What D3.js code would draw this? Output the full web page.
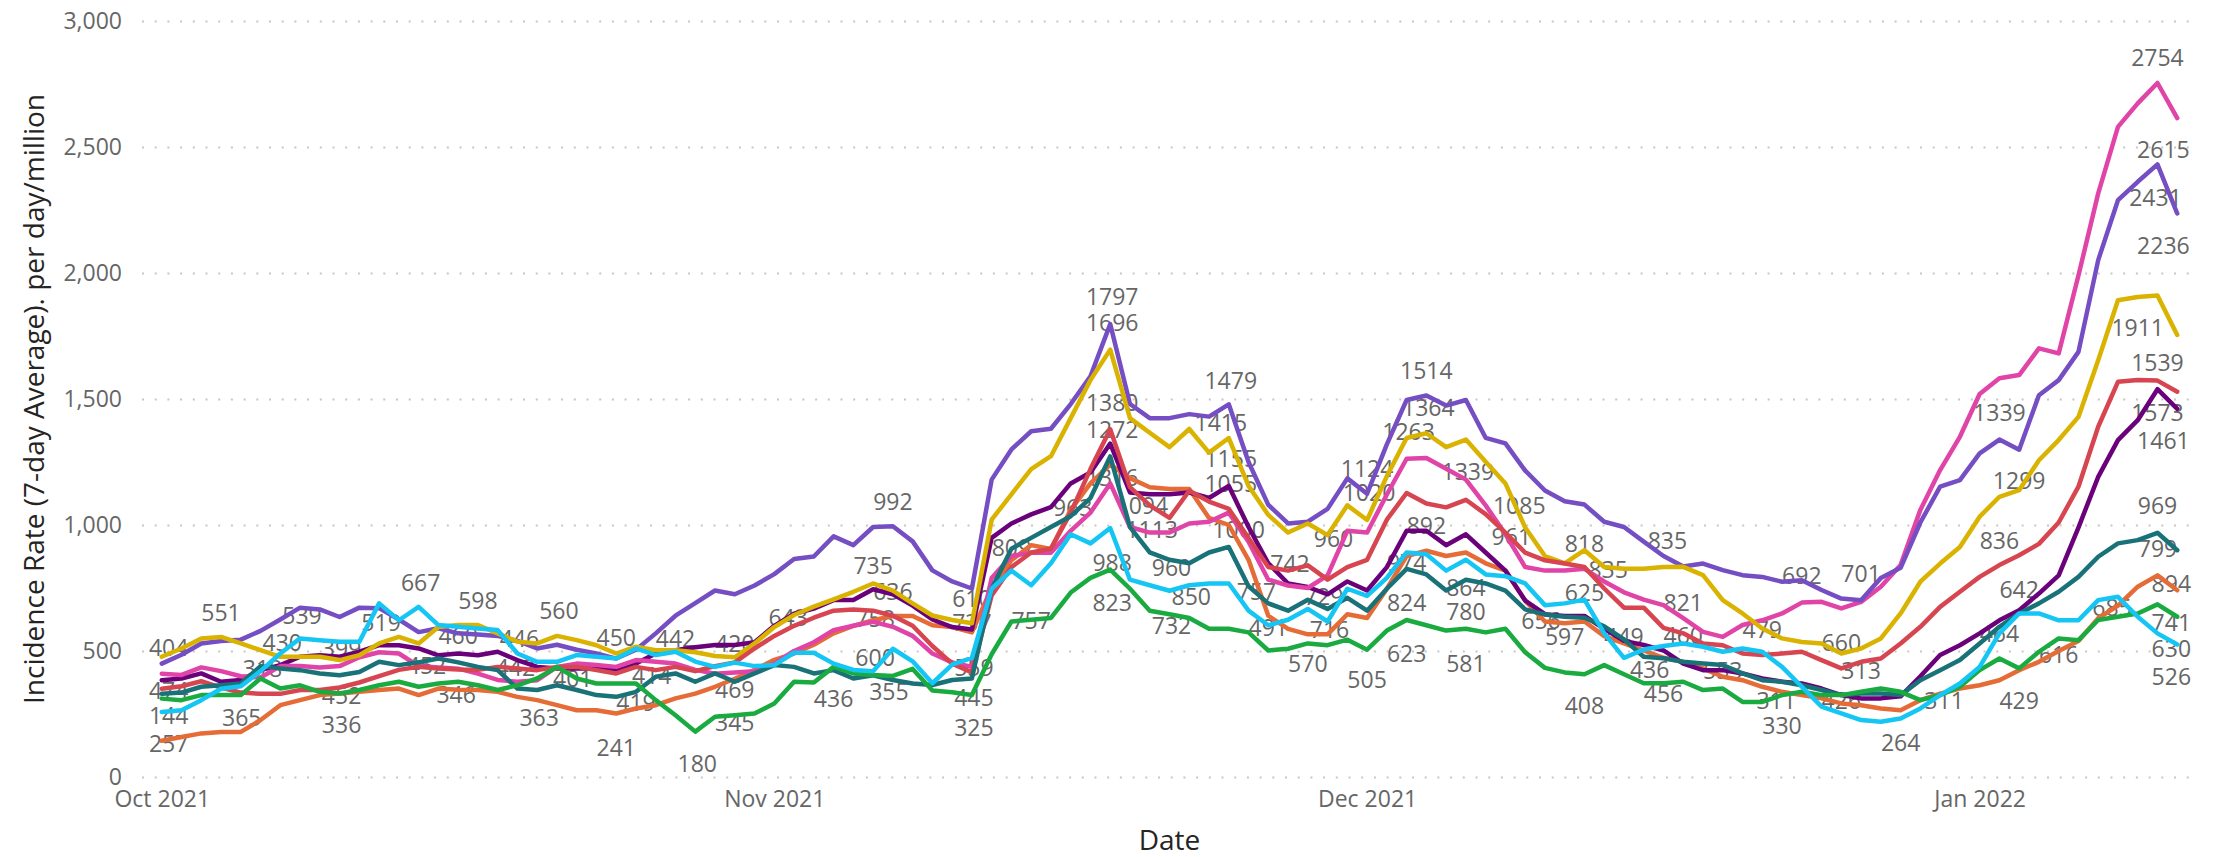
<!DOCTYPE html>
<html>
<head>
<meta charset="utf-8">
<script src="https://cdn.jsdelivr.net/npm/d3@7"></script>
<style>
  body { margin: 0; background: #fff; }
  svg text { font-family: "Segoe UI", "Open Sans", sans-serif; }
</style>
</head>
<body>
<div id="chart"></div>
<script>
// daily 7-day average incidence, 1 Oct 2021 -> 11 Jan 2022 (103 days)
const firstDay = Date.UTC(2021, 9, 1);
const lastDay = Date.UTC(2022, 0, 12);
const days = d3.utcDays(firstDay, lastDay);

const monthTicks = ["2021-10-01", "2021-11-01", "2021-12-01", "2022-01-01"];
const yTicks = [0, 500, 1000, 1500, 2000, 2500, 3000];

const purple = [
  450, 485, 530, 540, 545, 580, 625, 672, 665, 635, 672, 670, 625, 575, 590, 570, 565,
  560, 540, 510, 525, 505, 490, 470, 505, 570, 640, 690, 740, 725, 760, 805, 865, 875, 955, 920, 992,
  995, 935, 820, 776, 748, 1180, 1300, 1372, 1382, 1480, 1590, 1797, 1480, 1424, 1424, 1440, 1430, 1479, 1250, 1080,
  1006, 1013, 1064, 1185, 1124, 1320, 1496, 1514, 1474, 1496, 1346, 1324, 1216, 1137, 1094, 1081, 1013, 992, 934, 877,
  835, 847, 821, 801, 794, 775, 781, 742, 708, 701, 790, 830, 1010, 1152, 1178, 1284, 1339, 1299, 1515, 1575, 1687, 2051, 2289, 2362, 2431, 2236
];
const pink = [
  410, 405, 435, 420, 400, 395, 440, 440, 435, 440, 475, 495, 490, 440, 435, 430, 410,
  385, 378, 384, 437, 450, 444, 437, 464, 457, 450, 425, 410, 415, 420, 450, 500, 535, 583, 600, 616,
  596, 560, 490, 455, 437, 790, 877, 890, 890, 977, 1049, 1165, 992, 970, 970, 1006, 1013, 1049, 934, 783,
  760, 750, 800, 977, 970, 1121, 1263, 1266, 1223, 1180, 1078, 963, 833, 819, 819, 826, 776, 733, 704, 682,
  630, 576, 556, 603, 622, 649, 692, 695, 669, 695, 755, 841, 1060, 1218, 1350, 1520, 1582, 1595, 1701, 1681, 1990, 2316, 2580, 2673, 2754, 2615
];
const gold = [
  477, 510, 550, 556, 530, 503, 477, 477, 477, 464, 483, 530, 556, 530, 595, 603, 603,
  570, 537, 530, 560, 543, 523, 490, 517, 503, 503, 495, 480, 475, 530, 595, 643, 676, 705, 735, 768,
  740, 689, 641, 623, 610, 1021, 1122, 1222, 1273, 1424, 1575, 1696, 1424, 1366, 1309, 1381, 1287, 1345, 1155, 1040,
  970, 1006, 960, 1078, 1020, 1194, 1345, 1364, 1309, 1339, 1251, 1165, 990, 877, 848, 900, 833, 826, 826, 833,
  834, 801, 702, 649, 589, 550, 536, 530, 490, 510, 550, 649, 775, 847, 913, 1033, 1112, 1138, 1257, 1337, 1429, 1654, 1892, 1905, 1911, 1754
];
const red = [
  350, 360, 380, 355, 335, 330, 330, 345, 345, 355, 375, 400, 425, 437, 431, 427, 425,
  437, 431, 424, 437, 437, 424, 411, 437, 424, 437, 420, 440, 455, 510, 560, 600, 632, 660, 665, 660,
  640, 600, 520, 450, 415, 720, 833, 891, 906, 1049, 1222, 1380, 1150, 1078, 1028, 1136, 1093, 1064, 948, 833,
  819, 840, 783, 833, 862, 1021, 1127, 1085, 1070, 1100, 1043, 970, 890, 860, 847, 833, 748, 672, 672, 592,
  570, 530, 523, 490, 484, 490, 497, 464, 431, 457, 470, 530, 596, 675, 735, 794, 841, 880, 925, 1010, 1152, 1390, 1568, 1575, 1573, 1529
];
const darkPurple = [
  384, 391, 411, 378, 385, 424, 444, 477, 483, 477, 497, 523, 523, 510, 483, 490, 483,
  497, 464, 437, 431, 431, 431, 424, 450, 490, 503, 515, 524, 524, 535, 600, 648, 668, 702, 702, 745,
  725, 680, 625, 595, 585, 949, 1006, 1042, 1071, 1165, 1208, 1323, 1129, 1122, 1122, 1129, 1107, 1155, 992, 848,
  768, 754, 725, 776, 740, 833, 977, 977, 920, 963, 891, 819, 700, 646, 639, 639, 588, 540, 524, 502,
  450, 424, 424, 411, 391, 378, 371, 351, 325, 312, 312, 320, 400, 484, 523, 570, 622, 662, 728, 800, 990, 1191, 1337, 1416, 1539, 1461
];
const teal = [
  330, 335, 358, 364, 371, 440, 431, 424, 411, 404, 417, 457, 444, 455, 470, 455, 437,
  424, 351, 345, 364, 345, 325, 318, 338, 398, 411, 378, 411, 378, 411, 444, 437, 411, 424, 391, 404,
  385, 371, 365, 385, 391, 747, 906, 949, 992, 1035, 1107, 1272, 992, 891, 862, 848, 891, 913, 757, 689,
  660, 703, 667, 711, 660, 747, 826, 804, 740, 783, 768, 740, 665, 645, 636, 632, 598, 546, 477, 471,
  457, 450, 444, 411, 384, 378, 364, 345, 325, 331, 331, 325, 384, 424, 464, 530, 596, 649, 689, 735, 794, 874, 927, 940, 969, 900
];
const cyan = [
  258, 265, 305, 350, 360, 420, 490, 550, 543, 537, 537, 689, 622, 675, 603, 596, 589,
  583, 490, 457, 457, 484, 477, 470, 510, 484, 497, 458, 437, 454, 440, 444, 493, 493, 450, 425, 420,
  509, 459, 372, 446, 473, 747, 819, 761, 848, 963, 927, 988, 783, 761, 739, 761, 768, 768, 660, 602,
  624, 667, 617, 747, 719, 790, 891, 884, 819, 862, 804, 797, 768, 682, 689, 704, 570, 473, 506, 520,
  530, 517, 497, 510, 497, 437, 358, 279, 252, 226, 219, 232, 272, 325, 371, 437, 570, 649, 649, 622, 622, 702, 715, 636, 570, 526
];
const orange = [
  144, 159, 173, 179, 179, 226, 285, 305, 325, 331, 338, 345, 351, 325, 351, 346, 345,
  338, 318, 305, 285, 265, 265, 252, 272, 285, 312, 331, 358, 390, 425, 465, 490, 525, 570, 600, 622,
  639, 639, 602, 595, 574, 750, 860, 920, 905, 1060, 1165, 1240, 1186, 1150, 1143, 1143, 1028, 1000, 862, 640,
  588, 566, 566, 646, 631, 747, 877, 898, 877, 891, 848, 819, 700, 617, 610, 617, 559, 530, 502, 473,
  457, 431, 398, 384, 358, 338, 325, 312, 292, 285, 272, 265, 305, 331, 351, 364, 384, 424, 457, 500, 540, 630, 680, 755, 800, 741
];
const green = [
  311, 305, 325, 325, 325, 391, 351, 364, 338, 331, 345, 364, 378, 358, 371, 378, 364,
  345, 364, 391, 437, 391, 371, 371, 371, 305, 245, 180, 239, 245, 252, 292, 378, 375, 437, 411, 405,
  401, 429, 343, 336, 325, 487, 617, 624, 631, 732, 790, 823, 747, 660, 646, 631, 588, 588, 574, 502,
  509, 530, 523, 545, 505, 581, 623, 602, 581, 588, 574, 588, 495, 433, 415, 408, 444, 408, 372, 372,
  378, 345, 351, 298, 298, 325, 338, 325, 325, 338, 351, 338, 305, 325, 358, 424, 470, 431, 497, 550, 543, 623, 636, 649, 685, 636
];

// series in drawing order (later ones on top)
const seriesNames = ["orange", "darkPurple", "pink", "purple", "gold", "red", "teal", "green", "cyan"];
const seriesValues = [orange, darkPurple, pink, purple, gold, red, teal, green, cyan];
const seriesColors = ["#E66C37", "#6B007B", "#E044A7", "#744EC2", "#D9B300", "#D64550", "#197278", "#1AAB40", "#15C6F4"];

// data labels as Power BI scattered them: [day offset from 1 Oct, level, text]
const dataLabels = [
  [0.35, 517, "404"], [3.0, 656, "551"], [7.1, 642, "539"], [6.1, 536, "430"], [9.1, 510, "399"],
  [11.1, 616, "519"], [13.1, 775, "667"], [5.1, 431, "318"], [0.35, 345, "474"], [9.1, 325, "452"],
  [0.35, 245, "144"], [4.05, 239, "365"], [9.1, 212, "336"], [0.35, 133, "257"], [13.4, 444, "452"],
  [15.0, 563, "460"], [14.9, 331, "346"], [16.0, 702, "598"], [18.1, 550, "446"], [17.9, 437, "442"],
  [20.1, 662, "560"], [19.1, 239, "363"], [20.8, 391, "401"], [23.0, 556, "450"], [24.8, 404, "414"],
  [24.0, 298, "419"], [23.0, 120, "241"], [26.0, 550, "442"], [27.1, 54, "180"], [29.0, 530, "420"],
  [29.0, 219, "345"], [29.0, 351, "469"], [31.7, 636, "643"], [34.0, 312, "436"], [36.0, 841, "735"],
  [37.0, 1096, "992"], [37.0, 740, "636"], [36.1, 632, "758"], [36.1, 476, "600"], [36.8, 343, "355"],
  [41.0, 711, "610"], [41.0, 617, "737"], [41.1, 437, "559"], [41.1, 317, "445"], [41.1, 199, "325"],
  [43.0, 913, "809"], [44.0, 624, "757"], [46.1, 1071, "963"], [48.1, 1907, "1797"], [48.1, 1806, "1696"],
  [48.1, 1489, "1380"], [48.1, 1381, "1272"], [48.1, 1191, "1316"], [48.1, 855, "988"], [48.1, 696, "823"],
  [49.6, 1078, "1094"], [50.1, 985, "1113"], [51.1, 833, "960"], [52.1, 718, "850"], [51.1, 603, "732"],
  [54.1, 1575, "1479"], [53.6, 1407, "1415"], [54.1, 1266, "1155"], [54.1, 1165, "1055"], [54.5, 985, "1000"],
  [55.4, 739, "757"], [56.0, 596, "491"], [57.1, 848, "742"], [58.0, 451, "570"], [59.1, 588, "716"],
  [58.8, 718, "729"], [59.3, 949, "960"], [61.0, 387, "505"], [61.0, 1225, "1124"], [61.1, 1129, "1020"],
  [63.0, 696, "824"], [63.0, 494, "623"], [63.0, 855, "974"], [64.0, 999, "892"], [63.1, 1374, "1263"],
  [64.1, 1470, "1364"], [64.0, 1614, "1514"], [66.0, 754, "864"], [66.0, 660, "780"], [66.0, 451, "581"],
  [66.1, 1215, "1339"], [68.7, 1078, "1085"], [68.3, 956, "961"], [69.8, 624, "656"], [71.0, 560, "597"],
  [72.0, 286, "408"], [72.0, 927, "818"], [72.0, 733, "625"], [73.2, 826, "835"], [74.0, 560, "449"],
  [75.3, 430, "436"], [76.0, 332, "456"], [76.2, 940, "835"], [77.0, 695, "821"], [77.0, 563, "460"],
  [79.0, 424, "553"], [81.0, 589, "479"], [81.7, 305, "311"], [82.0, 206, "330"], [83.0, 801, "692"],
  [85.0, 305, "426"], [85.0, 536, "660"], [86.0, 424, "313"], [86.0, 808, "701"], [88.0, 140, "264"],
  [90.2, 305, "311"], [93.0, 1449, "1339"], [94.0, 1178, "1299"], [93.0, 940, "836"], [94.0, 748, "642"],
  [93.0, 570, "464"], [94.0, 305, "429"], [96.0, 490, "616"], [98.7, 676, "685"], [101.0, 1079, "969"],
  [101.0, 910, "799"], [101.7, 771, "894"], [101.7, 616, "741"], [101.7, 510, "630"], [101.7, 400, "526"],
  [101.0, 1449, "1573"], [101.3, 1337, "1461"], [101.0, 1648, "1539"], [100.0, 1787, "1911"], [101.3, 2111, "2236"],
  [100.9, 2303, "2431"], [101.3, 2494, "2615"], [101.0, 2858, "2754"]
];

(function() {

const width = 2219, height = 857;
const plot = { left: 142, right: 2197, top: 21, bottom: 777 };

const svg = d3.select("#chart")
    .append("svg")
    .attr("width", width)
    .attr("height", height);

const xScale = d3.scaleUtc()
    .domain([Date.UTC(2021, 8, 30), Date.UTC(2022, 0, 12)])
    .range([plot.left, plot.right]);
const yScale = d3.scaleLinear()
    .domain([0, 3000])
    .range([plot.bottom, plot.top]);

// dotted horizontal gridlines
svg.append("g")
    .attr("transform", `translate(${plot.left},0)`)
    .call(d3.axisLeft(yScale).tickValues(yTicks).tickSize(-(plot.right - plot.left)).tickFormat(""))
    .call(g => g.select(".domain").remove())
    .call(g => g.selectAll(".tick line")
        .attr("stroke", "#C8C6C4")
        .attr("stroke-width", 2)
        .attr("stroke-dasharray", "2 10.7"));

// y axis labels
svg.append("g")
    .attr("transform", `translate(${plot.left},0)`)
    .call(d3.axisLeft(yScale).tickValues(yTicks).tickSize(0).tickPadding(20).tickFormat(d3.format(",")))
    .call(g => g.select(".domain").remove())
    .call(g => g.selectAll("text")
        .attr("fill", "#666")
        .style("font-size", "23px"));

// x axis labels
svg.append("g")
    .attr("transform", `translate(0,${plot.bottom})`)
    .call(d3.axisBottom(xScale)
        .tickValues(monthTicks.map(d => new Date(d + "T00:00:00Z")))
        .tickSize(0).tickPadding(14)
        .tickFormat(d3.utcFormat("%b %Y")))
    .call(g => g.select(".domain").remove())
    .call(g => g.selectAll("text")
        .attr("fill", "#666")
        .style("font-size", "23px"));

// axis titles
svg.append("text")
    .attr("x", (plot.left + plot.right) / 2)
    .attr("y", 850)
    .attr("text-anchor", "middle")
    .attr("fill", "#252423")
    .style("font-size", "28px")
    .text("Date");

svg.append("text")
    .attr("transform", `translate(33,${(plot.top + plot.bottom) / 2}) rotate(-90)`)
    .attr("text-anchor", "middle")
    .attr("dominant-baseline", "central")
    .attr("fill", "#252423")
    .style("font-size", "28px")
    .text("Incidence Rate (7-day Average). per day/million");

const dayToDate = d => new Date(firstDay + d * 864e5);

// data labels (under the lines, as in the original)
svg.append("g")
    .selectAll("text")
    .data(dataLabels)
    .join("text")
    .attr("x", d => xScale(dayToDate(d[0])))
    .attr("y", d => yScale(d[1]))
    .attr("text-anchor", "middle")
    .attr("dominant-baseline", "central")
    .attr("fill", "#666")
    .style("font-size", "23px")
    .text(d => d[2]);

// lines
const line = d3.line()
    .x((d, i) => xScale(days[i]))
    .y(d => yScale(d));

svg.append("g")
    .selectAll("path")
    .data(seriesValues)
    .join("path")
    .attr("class", (d, i) => "line " + seriesNames[i])
    .attr("fill", "none")
    .attr("stroke", (d, i) => seriesColors[i])
    .attr("stroke-width", 4.5)
    .attr("stroke-linejoin", "round")
    .attr("stroke-linecap", "round")
    .attr("d", line);

// quick sanity check on lengths
seriesValues.forEach((vals, i) => {
    if (vals.length !== days.length) {
        console.error("length mismatch", seriesNames[i], vals.length, days.length);
        svg.append("text").attr("x", 300).attr("y", 60 + i * 30).attr("fill", "red")
            .text(seriesNames[i] + " " + vals.length + "/" + days.length);
    }
});

})();
</script>
</body>
</html>
